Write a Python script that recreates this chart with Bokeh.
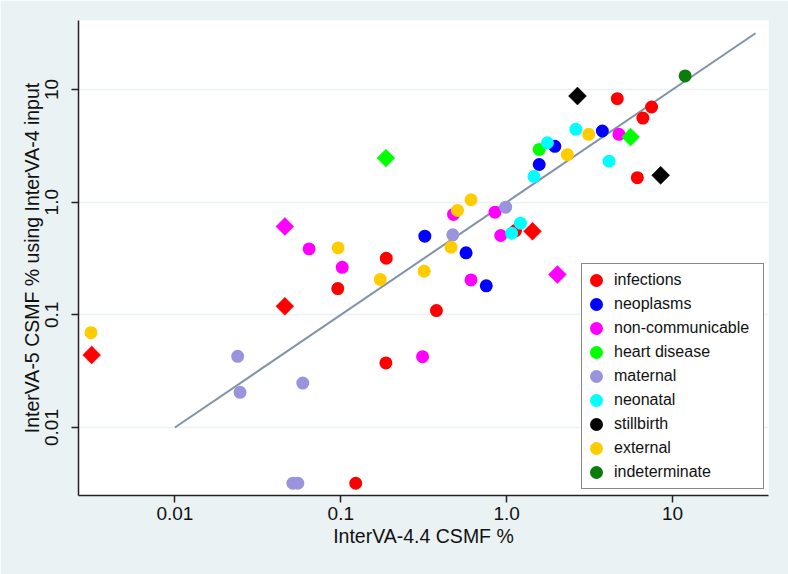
from bokeh.plotting import figure
from bokeh.models import Range1d, FixedTicker, CustomJSTickFormatter, Legend, LegendItem
from bokeh.embed import file_html
from bokeh.resources import INLINE

# ---------------- data ----------------
categories = ["infections", "neoplasms", "non-communicable", "heart disease",
              "maternal", "neonatal", "stillbirth", "external", "indeterminate"]
colors = ["#FF0000", "#0000FF", "#FF00FF", "#00FF00",
          "#9A94DC", "#00FFFF", "#000000", "#FFCC00", "#0B7D0B"]

infections_circle_x = [4.64, 7.47, 6.62, 6.13, 0.188, 0.0959, 0.377, 0.187, 0.123, 1.13]
infections_circle_y = [8.30, 6.99, 5.58, 1.65, 0.318, 0.171, 0.109, 0.0374, 0.0032, 0.56]
infections_diamond_x = [1.43, 0.046, 0.00315]
infections_diamond_y = [0.552, 0.119, 0.044]

neoplasms_circle_x = [0.321, 0.569, 0.753, 1.57, 1.95, 3.77]
neoplasms_circle_y = [0.499, 0.355, 0.181, 2.16, 3.13, 4.28]
neoplasms_diamond_x = []
neoplasms_diamond_y = []

noncomm_circle_x = [0.0644, 0.102, 0.478, 0.850, 0.920, 0.609, 0.311, 4.75]
noncomm_circle_y = [0.385, 0.264, 0.778, 0.815, 0.506, 0.204, 0.0425, 4.0]
noncomm_diamond_x = [0.046, 2.02]
noncomm_diamond_y = [0.608, 0.228]

heart_circle_x = [1.57]
heart_circle_y = [2.94]
heart_diamond_x = [0.187, 5.58]
heart_diamond_y = [2.46, 3.78]

maternal_circle_x = [0.0239, 0.0247, 0.059, 0.0514, 0.0551, 0.473, 0.986]
maternal_circle_y = [0.0428, 0.0205, 0.0248, 0.0032, 0.0032, 0.513, 0.903]
maternal_diamond_x = []
maternal_diamond_y = []

neonatal_circle_x = [1.46, 1.76, 2.61, 4.14, 1.21, 1.07]
neonatal_circle_y = [1.69, 3.37, 4.43, 2.31, 0.651, 0.530]
neonatal_diamond_x = []
neonatal_diamond_y = []

stillbirth_circle_x = []
stillbirth_circle_y = []
stillbirth_diamond_x = [2.67, 8.47]
stillbirth_diamond_y = [8.75, 1.73]

external_circle_x = [0.609, 0.505, 0.462, 0.318, 0.173, 0.0963, 2.32, 3.12, 0.00312]
external_circle_y = [1.05, 0.844, 0.398, 0.244, 0.206, 0.393, 2.64, 4.0, 0.0695]
external_diamond_x = []
external_diamond_y = []

indeterminate_circle_x = [11.9]
indeterminate_circle_y = [13.2]
indeterminate_diamond_x = []
indeterminate_diamond_y = []

identity_x = [0.01, 31.6]
identity_y = [0.01, 31.6]

tick_values = [0.01, 0.1, 1.0, 10.0]
tick_labels = ["0.01", "0.1", "1.0", "10"]

circle_x = [infections_circle_x, neoplasms_circle_x, noncomm_circle_x, heart_circle_x,
            maternal_circle_x, neonatal_circle_x, stillbirth_circle_x, external_circle_x,
            indeterminate_circle_x]
circle_y = [infections_circle_y, neoplasms_circle_y, noncomm_circle_y, heart_circle_y,
            maternal_circle_y, neonatal_circle_y, stillbirth_circle_y, external_circle_y,
            indeterminate_circle_y]
diamond_x = [infections_diamond_x, neoplasms_diamond_x, noncomm_diamond_x, heart_diamond_x,
             maternal_diamond_x, neonatal_diamond_x, stillbirth_diamond_x, external_diamond_x,
             indeterminate_diamond_x]
diamond_y = [infections_diamond_y, neoplasms_diamond_y, noncomm_diamond_y, heart_diamond_y,
             maternal_diamond_y, neonatal_diamond_y, stillbirth_diamond_y, external_diamond_y,
             indeterminate_diamond_y]

# ---------------- figure ----------------
BG = "#EAF2F3"
FONT = "Liberation Sans"

p = figure(width=788, height=574, x_axis_type="log", y_axis_type="log",
           x_range=Range1d(0.002624, 37.84), y_range=Range1d(0.002491, 40.97),
           output_backend="svg", toolbar_location=None,
           min_border_left=78, min_border_right=20, min_border_top=20, min_border_bottom=79)
p.border_fill_color = BG
p.background_fill_color = "white"
p.outline_line_color = None

fmt_code = """
for (let i = 0; i < vals.length; i++) {
  if (Math.abs(Math.log10(vals[i]) - Math.log10(tick)) < 1e-6) { return labels[i]; }
}
return "";
"""
for ax in (p.xaxis[0], p.yaxis[0]):
    ax.ticker = FixedTicker(ticks=tick_values)
    ax.formatter = CustomJSTickFormatter(args=dict(vals=tick_values, labels=tick_labels), code=fmt_code)
    ax.axis_line_color = "#222222"
    ax.axis_line_width = 1.5
    ax.major_tick_line_color = "#222222"
    ax.major_tick_line_width = 1.5
    ax.major_tick_out = 7
    ax.major_tick_in = 0
    ax.minor_tick_out = 0
    ax.minor_tick_in = 0
    ax.major_label_text_font = FONT
    ax.major_label_text_font_size = "19px"
    ax.major_label_text_color = "#111111"
    ax.axis_label_text_font = FONT
    ax.axis_label_text_font_size = "19.5px"
    ax.axis_label_text_font_style = "normal"
    ax.axis_label_text_color = "#111111"

p.xaxis.axis_label = "InterVA-4.4 CSMF %"
p.yaxis.axis_label = "InterVA-5 CSMF % using InterVA-4 input"
p.xaxis.major_label_standoff = 4
p.yaxis.major_label_standoff = 13
p.xaxis.axis_label_standoff = 2
p.yaxis.axis_label_standoff = 0
p.yaxis.major_label_orientation = "vertical"

p.xgrid.visible = False
p.ygrid.ticker = FixedTicker(ticks=tick_values)
p.ygrid.grid_line_color = BG
p.ygrid.grid_line_width = 1.5

p.line(identity_x, identity_y, line_color="#8193A8", line_width=2)

# circles: marker 9.6 px + 3.4 px outline = 13 px visible diameter
legend_renderers = []
for i in range(len(categories)):
    r = p.scatter(circle_x[i], circle_y[i], marker="circle", size=9.6,
                  fill_color=colors[i], line_color=colors[i], line_width=3.4)
    legend_renderers.append(r)
for i in range(len(categories)):
    if diamond_x[i]:
        p.scatter(diamond_x[i], diamond_y[i], marker="square", angle=0.785398, size=12.7,
                  fill_color=colors[i], line_color=colors[i], line_width=0.5)
        if not circle_x[i]:
            # hidden circle renderer so the legend shows a circle key for this group
            legend_renderers[i] = p.scatter(diamond_x[i], diamond_y[i], marker="circle", size=9.6,
                                            fill_color=colors[i], line_color=colors[i],
                                            line_width=3.4, visible=False)

legend = Legend(items=[LegendItem(label=categories[i], renderers=[legend_renderers[i]])
                       for i in range(len(categories))],
                location=(503, 6), orientation="vertical",
                padding=dict(left=0, right=14, top=4, bottom=4), spacing=0, margin=0,
                glyph_width=28, glyph_height=24, label_height=24, label_standoff=4,
                label_text_font=FONT, label_text_font_size="16px", label_text_color="#111111",
                border_line_color="#111111", border_line_width=1.2,
                background_fill_color="white", background_fill_alpha=1.0)
p.add_layout(legend, "center")

html = file_html(p, INLINE)
html = html.replace("<body>", '<body style="background-color:%s">' % BG, 1)
open("out.html", "w").write(html)
